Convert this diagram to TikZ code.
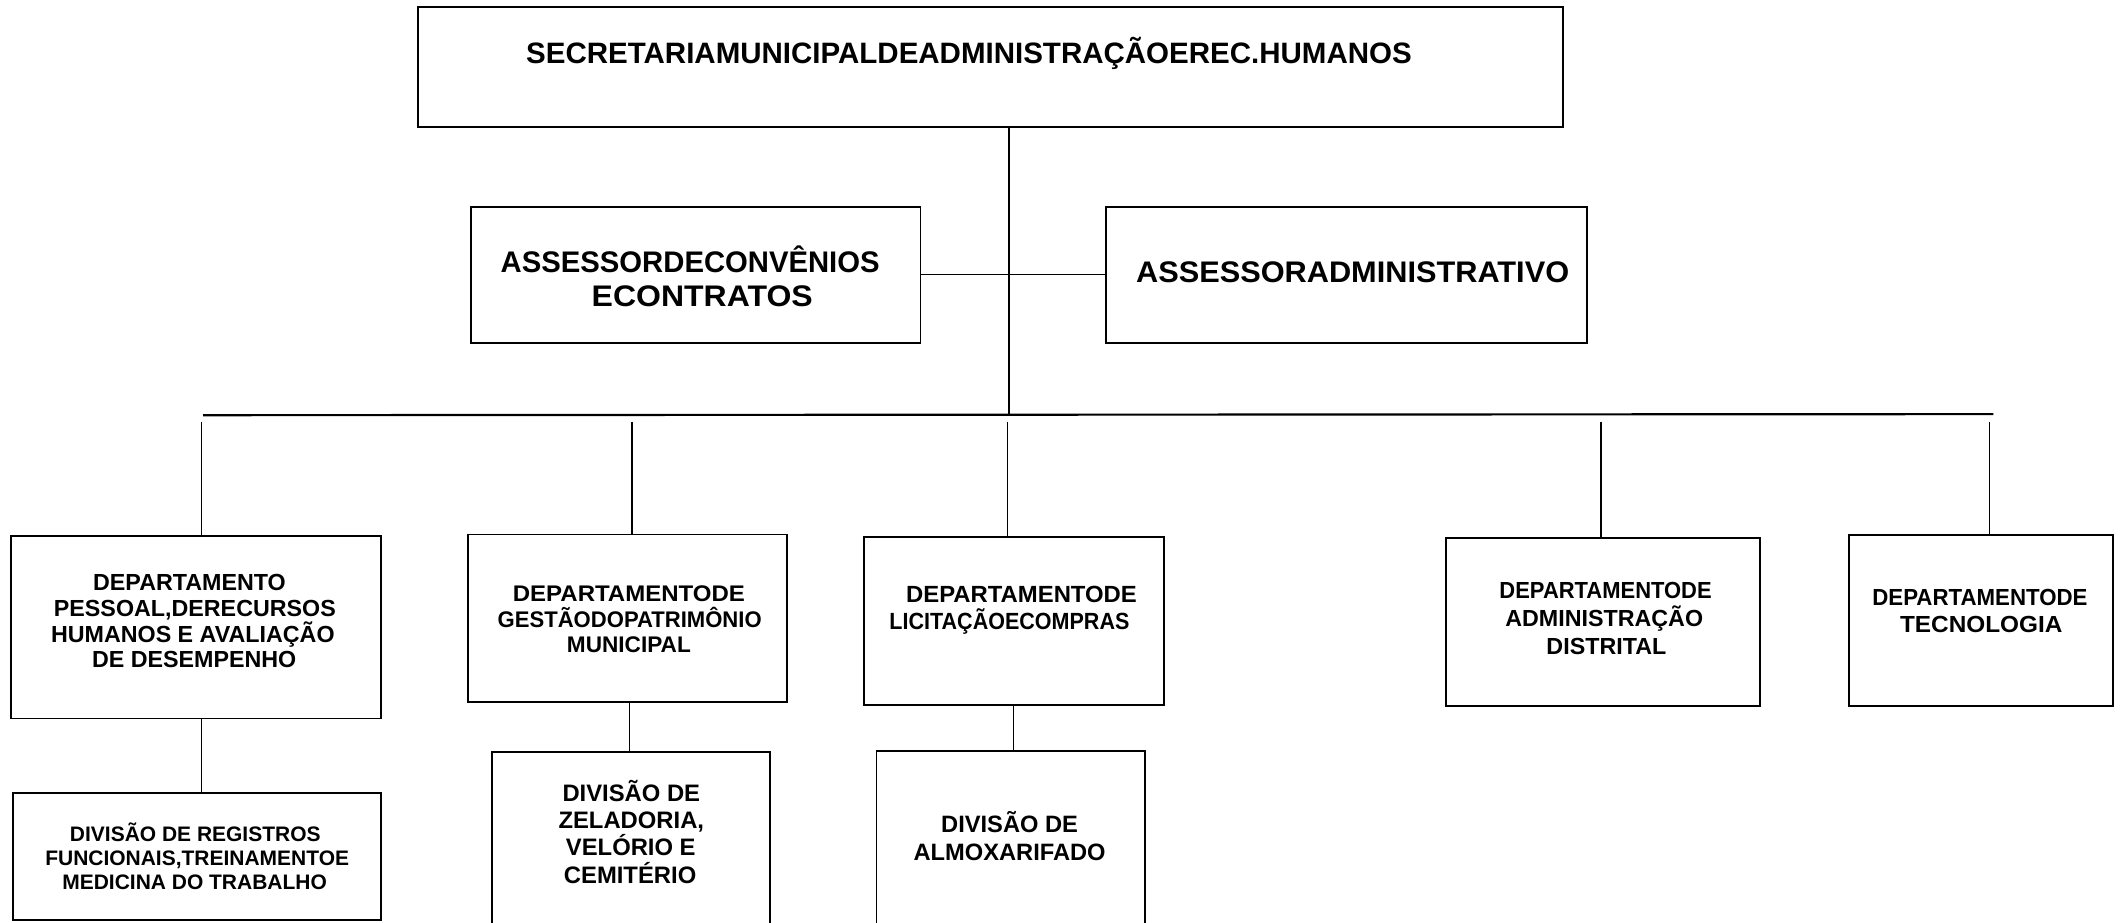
\documentclass[tikz,border=0pt]{standalone}
\usepackage{fontspec}
\setmainfont{Liberation Sans}
\usepackage{graphicx}
\newcommand{\fw}[2]{\resizebox{#1pt}{\height}{#2}}
\begin{document}
\begin{tikzpicture}[x=1pt,y=-1pt,
  box/.style={draw, line width=1.3pt, inner sep=0pt},
  wire/.style={line width=0.9pt},
  bus/.style={line width=1.6pt},
  lbl/.style={anchor=base, inner sep=0pt, font=\bfseries\fontsize{#1}{#1}\selectfont}]
\path[use as bounding box] (0,0) rectangle (1568,681.3);
\clip (0,0) rectangle (1568,681.3);
% boxes
\node[box, minimum width=846.1pt, minimum height=88.7pt] (top) at (731.95,49.75) {};
\node[box, minimum width=332.1pt, minimum height=100.5pt] (AL) at (514.05,202.95) {};
\node[box, minimum width=355.8pt, minimum height=100.5pt] (AR) at (995,202.95) {};
\node[box, minimum width=273.4pt, minimum height=135pt] (D1) at (144.8,463.5) {};
\node[box, minimum width=235.5pt, minimum height=124pt] (D2) at (463.75,457) {};
\node[box, minimum width=221.3pt, minimum height=124.1pt] (D3) at (749.35,458.65) {};
\node[box, minimum width=232.3pt, minimum height=124.4pt] (D4) at (1184.35,459.5) {};
\node[box, minimum width=195pt, minimum height=125.9pt] (D5) at (1464,458.45) {};
\node[box, minimum width=271.7pt, minimum height=94pt] (V1) at (145.65,633) {};
\node[box, minimum width=205.4pt, minimum height=144.3pt] (V2) at (466.3,627.85) {};
\node[box, minimum width=198.3pt, minimum height=145pt] (V3) at (746.85,627.5) {};
% texts
\node[lbl=21.8] (ttop) at (716,46.8) {SECRETARIAMUNICIPALDEADMINISTRAÇÃOEREC.HUMANOS};
\node[lbl=22] (tAL1) at (510,201.5) {\fw{280}{ASSESSORDECONVÊNIOS}};
\node[lbl=22] (tAL2) at (518.9,226.5) {\fw{163.3}{ECONTRATOS}};
\node[lbl=22] (tAR) at (999.5,209) {\fw{320}{ASSESSORADMINISTRATIVO}};
\node[lbl=17.2] (tD1a) at (140,436.5) {DEPARTAMENTO};
\node[lbl=17.2] (tD1b) at (144,455.5) {PESSOAL,DERECURSOS};
\node[lbl=17.2] (tD1c) at (142.5,474.5) {HUMANOS E AVALIAÇÃO};
\node[lbl=17.2] (tD1d) at (143.5,493.5) {DE DESEMPENHO};
\node[lbl=16.7] (tD2a) at (464.7,444.5) {\fw{171.5}{DEPARTAMENTODE}};
\node[lbl=16.7] (tD2b) at (465.3,463.5) {\fw{195}{GESTÃODOPATRIMÔNIO}};
\node[lbl=16.7] (tD2c) at (464.7,482.5) {MUNICIPAL};
\node[lbl=17.3] (tD3a) at (754.8,445.3) {\fw{170.5}{DEPARTAMENTODE}};
\node[lbl=17.3] (tD3b) at (745.9,465) {\fw{177.3}{LICITAÇÃOECOMPRAS}};
\node[lbl=17.2] (tD4a) at (1186.4,442) {\fw{156.8}{DEPARTAMENTODE}};
\node[lbl=17.2] (tD4b) at (1185.4,463) {ADMINISTRAÇÃO};
\node[lbl=17.2] (tD4c) at (1187,483.3) {DISTRITAL};
\node[lbl=17.2] (tD5a) at (1463,447.3) {\fw{159}{DEPARTAMENTODE}};
\node[lbl=17.2] (tD5b) at (1464,467) {\fw{120}{TECNOLOGIA}};
\node[lbl=15.5] (tV1a) at (144.3,621.9) {DIVISÃO DE REGISTROS};
\node[lbl=15.5] (tV1b) at (145.7,639.7) {FUNCIONAIS,TREINAMENTOE};
\node[lbl=15.5] (tV1c) at (143.8,657.6) {MEDICINA DO TRABALHO};
\node[lbl=17.6] (tV2a) at (466.5,592.5) {DIVISÃO DE};
\node[lbl=17.6] (tV2b) at (466.5,612.5) {ZELADORIA,};
\node[lbl=17.6] (tV2c) at (466.1,632.5) {VELÓRIO E};
\node[lbl=17.6] (tV2d) at (465.6,652.5) {CEMITÉRIO};
\node[lbl=17.5] (tV3a) at (746,615.5) {DIVISÃO DE};
\node[lbl=17.5] (tV3b) at (746,636) {ALMOXARIFADO};
% connectors
\coordinate (bL) at (150,306.8);
\coordinate (bR) at (1473,306);
\coordinate (bC) at (745.6,306.5);
\draw[bus] (bL) -- (bR);
\draw[wire] (top.south -| bC) -- (bC);
\draw[wire] (AL.east) -- (AR.west);
\coordinate (p1) at (149,311.6);
\coordinate (p2) at (467,311.6);
\coordinate (p3) at (744.5,311.6);
\coordinate (p4) at (1183,311.6);
\coordinate (p5) at (1470,311.6);
\draw[wire] (p1) -- (p1 |- D1.north);
\draw[wire] (p2) -- (p2 |- D2.north);
\draw[wire] (p3) -- (p3 |- D3.north);
\draw[wire] (p4) -- (p4 |- D4.north);
\draw[wire] (p5) -- (p5 |- D5.north);
\coordinate (q1) at (149,0);
\coordinate (q2) at (465,0);
\coordinate (q3) at (748.8,0);
\draw[wire] (q1 |- D1.south) -- (q1 |- V1.north);
\draw[wire] (q2 |- D2.south) -- (q2 |- V2.north);
\draw[wire] (q3 |- D3.south) -- (q3 |- V3.north);
\end{tikzpicture}
\end{document}
